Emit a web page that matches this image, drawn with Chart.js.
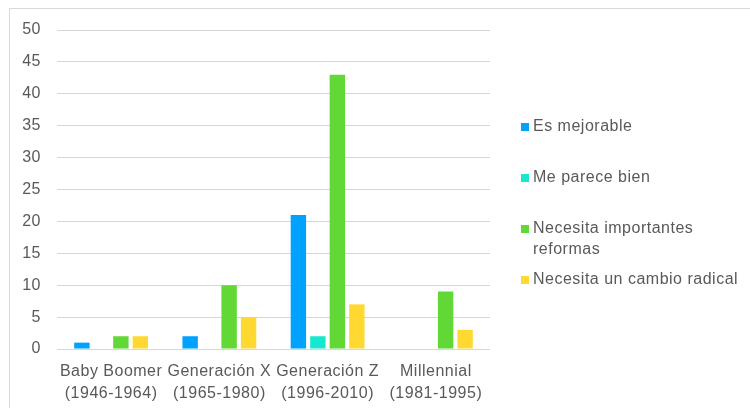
<!DOCTYPE html>
<html>
<head>
<meta charset="utf-8">
<script src="https://cdn.jsdelivr.net/npm/chart.js@4"></script>
<style>
  body { margin: 0; background: #fff; }
  #frame { position: absolute; left: 9px; top: 8px; width: 750px; height: 420px; border: 1px solid #d9d9d9; box-sizing: border-box; }
  canvas { position: absolute; left: 0; top: 0; }
</style>
</head>
<body>
<div id="frame"></div>
<canvas id="barChart" width="750" height="408"></canvas>
<script>
const categories = [
  ["Baby Boomer", "(1946-1964)"],
  ["Generación X", "(1965-1980)"],
  ["Generación Z", "(1996-2010)"],
  ["Millennial", "(1981-1995)"]
];
const seriesNames = ["Es mejorable", "Me parece bien", "Necesita importantes reformas", "Necesita un cambio radical"];
const legendLines = [["Es mejorable"], ["Me parece bien"], ["Necesita importantes", "reformas"], ["Necesita un cambio radical"]];
const esMejorable = [1, 2, 21, 0];
const meParece = [0, 0, 2, 0];
const importantes = [2, 10, 43, 9];
const radical = [2, 5, 7, 3];
const colors = ["#00a2ff", "#16e7cf", "#61d836", "#ffd932"];

const textColor = "#595959";
const fontFamily = "'Liberation Sans', Arial, Helvetica, sans-serif";

// legend drawn to the right, evenly spaced rows like the original
const sideLegend = {
  id: "sideLegend",
  beforeDraw(chart) {
    chart.ctx.letterSpacing = "0.5px";
  },
  afterDraw(chart) {
    const ctx = chart.ctx;
    ctx.save();
    ctx.letterSpacing = "0.5px";
    ctx.font = "16px " + fontFamily;
    ctx.textBaseline = "middle";
    chart.data.datasets.forEach((ds, i) => {
      let y = 127 + i * 51;
      ctx.fillStyle = ds.backgroundColor;
      ctx.fillRect(521, y - 4, 8, 8);
      ctx.fillStyle = textColor;
      legendLines[i].forEach((line, j) => {
        ctx.fillText(line, 533, y + j * 21);
      });
    });
    ctx.restore();
  }
};

const ctx = document.getElementById("barChart").getContext("2d");
const data = [esMejorable, meParece, importantes, radical];

new Chart(ctx, {
  type: "bar",
  data: {
    labels: categories,
    datasets: seriesNames.map((name, i) => ({
      label: name,
      data: data[i],
      backgroundColor: colors[i],
      categoryPercentage: 0.72,
      barPercentage: 0.79
    }))
  },
  options: {
    responsive: false,
    animation: false,
    layout: { padding: { top: 30, right: 260, bottom: 0, left: 0 } },
    plugins: {
      legend: { display: false },
      tooltip: { enabled: false }
    },
    scales: {
      x: {
        grid: { display: false },
        border: { display: false },
        ticks: {
          color: textColor,
          font: { family: fontFamily, size: 16, lineHeight: 1.375 },
          padding: 4,
          maxRotation: 0,
          autoSkip: false
        },
        afterFit(scale) { scale.height = 59; }
      },
      y: {
        min: 0,
        max: 50,
        grid: { color: "#d6d6d6", lineWidth: 1, drawTicks: false },
        border: { display: false },
        ticks: {
          stepSize: 5,
          color: textColor,
          font: { family: fontFamily, size: 16 },
          padding: 16
        },
        afterFit(scale) { scale.width = 57; }
      }
    }
  },
  plugins: [sideLegend]
});
</script>
</body>
</html>
